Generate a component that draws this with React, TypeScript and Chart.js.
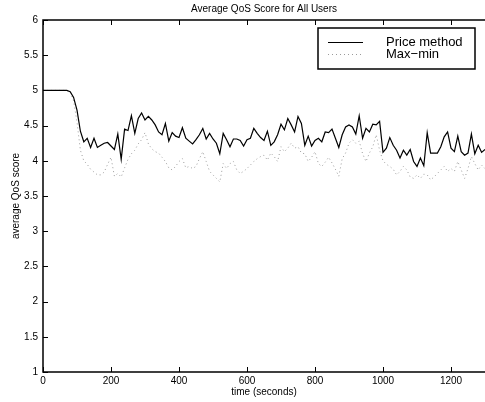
import React, { useEffect, useRef } from "react";
import { Chart, registerables } from "chart.js";

Chart.register(...registerables);

const chartTitle = "Average QoS Score for All Users";
const xTitle = "time (seconds)";
const yTitle = "average QoS score";
const seriesNames = ["Price method", "Max\u2212min"];

// sample times: 0, 10, ..., 1300 seconds
const times: number[] = Array.from({ length: 131 }, (_, i) => i * 10);

const priceMethod: number[] = [
  5.0, 5.0, 5.0, 5.0, 5.0, 5.0, 5.0, 5.0, 4.98, 4.9,
  4.72, 4.42, 4.27, 4.32, 4.19, 4.32, 4.19, 4.22, 4.25, 4.26,
  4.21, 4.16, 4.38, 4.02, 4.45, 4.43, 4.64, 4.39, 4.6, 4.68,
  4.58, 4.63, 4.58, 4.51, 4.41, 4.37, 4.53, 4.28, 4.4, 4.35,
  4.33, 4.47, 4.32, 4.28, 4.24, 4.3, 4.37, 4.46, 4.31, 4.39,
  4.31, 4.25, 4.1, 4.39, 4.3, 4.2, 4.31, 4.31, 4.29, 4.21,
  4.3, 4.32, 4.46, 4.39, 4.33, 4.29, 4.42, 4.22, 4.27, 4.37,
  4.52, 4.44, 4.6, 4.51, 4.41, 4.63, 4.53, 4.22, 4.35, 4.21,
  4.29, 4.32, 4.27, 4.41, 4.4, 4.45, 4.32, 4.19, 4.37, 4.48,
  4.51, 4.48, 4.38, 4.64, 4.32, 4.46, 4.41, 4.52, 4.51, 4.56,
  4.12, 4.18, 4.33, 4.22, 4.15, 4.04, 4.15, 4.08, 4.16, 3.99,
  3.92, 4.04, 3.93, 4.4, 4.11, 4.11, 4.11, 4.2, 4.34, 4.41,
  4.18, 4.13, 4.35, 4.13, 4.08, 4.11, 4.38, 4.1, 4.22, 4.12,
  4.16,
];

const maxMin: number[] = [
  5.0, 5.0, 5.0, 5.0, 5.0, 5.0, 5.0, 5.0, 4.98, 4.85,
  4.55, 4.15, 4.0, 3.95, 3.88, 3.84, 3.8, 3.8, 3.84, 3.95,
  4.05, 3.78, 3.82, 3.77, 3.9, 4.02, 4.1, 4.15, 4.24, 4.3,
  4.4, 4.24, 4.17, 4.13, 4.11, 4.05, 3.99, 3.9, 3.87, 3.92,
  3.99, 4.03, 3.9, 3.92, 3.89, 3.92, 4.03, 4.13, 3.99, 3.85,
  3.8, 3.75, 3.7, 3.96, 3.89, 3.96, 3.99, 3.87, 3.82, 3.85,
  3.89, 3.94, 3.99, 4.03, 4.06, 4.08, 4.01, 4.11, 4.06, 3.99,
  4.2, 4.13, 4.18, 4.25, 4.18, 4.2, 4.11, 4.1, 3.99, 4.05,
  4.13, 3.96, 3.92, 3.98, 4.05, 3.97, 3.88, 3.78, 4.03, 4.11,
  4.25, 4.3, 4.25, 4.28, 4.1, 3.99, 4.11, 4.2, 4.37, 4.15,
  4.0, 3.95, 3.92, 3.88, 3.8, 3.85, 3.92, 3.87, 3.77, 3.75,
  3.8, 3.75, 3.81, 3.8, 3.73, 3.77, 3.82, 3.87, 3.92, 3.85,
  3.89, 3.85, 3.99, 3.87, 3.75, 3.89, 4.06, 3.96, 3.87, 3.94,
  3.89,
];

const FONT = "'Liberation Sans', Arial, Helvetica, sans-serif";

const framePlugin = {
  id: "matlabFrame",
  afterDraw(chart: any) {
    const { ctx, chartArea: a, scales } = chart;
    const xs = scales.x;
    const ys = scales.y;
    ctx.save();
    // title
    ctx.fillStyle = "#000";
    ctx.font = `10px ${FONT}`;
    ctx.textAlign = "center";
    ctx.textBaseline = "middle";
    ctx.fillText(chartTitle, (a.left + a.right) / 2, 9.5);

    // frame (top, left, bottom)
    ctx.strokeStyle = "#000";
    ctx.lineWidth = 1.5;
    ctx.beginPath();
    ctx.moveTo(a.right + 3, a.top);
    ctx.lineTo(a.left, a.top);
    ctx.lineTo(a.left, a.bottom);
    ctx.lineTo(a.right + 3, a.bottom);
    ctx.stroke();

    // inward ticks
    ctx.lineWidth = 1;
    ctx.beginPath();
    xs.ticks.forEach((t: any) => {
      const px = Math.round(xs.getPixelForValue(t.value)) + 0.5;
      ctx.moveTo(px, a.bottom);
      ctx.lineTo(px, a.bottom - 5);
      ctx.moveTo(px, a.top);
      ctx.lineTo(px, a.top + 5);
    });
    ys.ticks.forEach((t: any) => {
      const py = Math.round(ys.getPixelForValue(t.value)) + 0.5;
      ctx.moveTo(a.left, py);
      ctx.lineTo(a.left + 5, py);
    });
    ctx.stroke();

    // legend box
    const bx = 318, by = 28, bw = 157, bh = 41;
    ctx.fillStyle = "#fff";
    ctx.fillRect(bx, by, bw, bh);
    ctx.lineWidth = 1.5;
    ctx.strokeStyle = "#000";
    ctx.strokeRect(bx, by, bw, bh);
    const ds = chart.data.datasets;
    const rows = [42.5, 54.5];
    ds.forEach((d: any, i: number) => {
      ctx.beginPath();
      ctx.strokeStyle = d.borderColor;
      ctx.lineWidth = d.borderWidth;
      ctx.setLineDash(d.borderDash || []);
      ctx.moveTo(328, rows[i]);
      ctx.lineTo(363, rows[i]);
      ctx.stroke();
      ctx.setLineDash([]);
      ctx.fillStyle = "#000";
      ctx.font = `13px ${FONT}`;
      ctx.textAlign = "left";
      ctx.textBaseline = "middle";
      ctx.fillText(d.label, 386, rows[i]);
    });
    ctx.restore();
  },
};

export default function App() {
  const ref = useRef<HTMLCanvasElement | null>(null);

  useEffect(() => {
    if (!ref.current) return;
    const chart = new Chart(ref.current, {
      type: "line",
      data: {
        datasets: [
          {
            label: seriesNames[0],
            data: times.map((t, i) => ({ x: t, y: priceMethod[i] })),
            borderColor: "#000000",
            borderWidth: 1.2,
            pointRadius: 0,
            tension: 0,
            fill: false,
          },
          {
            label: seriesNames[1],
            data: times.map((t, i) => ({ x: t, y: maxMin[i] })),
            borderColor: "#9a9a9a",
            borderWidth: 1,
            borderDash: [1, 3],
            pointRadius: 0,
            tension: 0,
            fill: false,
          },
        ],
      },
      options: {
        animation: false,
        responsive: false,
        devicePixelRatio: 1,
        layout: { padding: { top: 20, right: 0, left: 0, bottom: 0 } },
        plugins: {
          legend: { display: false },
          title: { display: false },
          tooltip: { enabled: false },
        },
        scales: {
          x: {
            type: "linear",
            min: 0,
            max: 1300,
            grid: { display: false, drawTicks: false },
            border: { display: false },
            ticks: {
              stepSize: 200,
              includeBounds: false,
              padding: 3,
              maxRotation: 0,
              color: "#000",
              font: { family: FONT, size: 10 },
              callback: (v: any) => String(v),
            },
            afterBuildTicks: (s: any) => {
              s.ticks = s.ticks.filter((t: any) => t.value % 200 === 0);
            },
            afterFit: (s: any) => {
              s.height = 30;
            },
            title: {
              display: true,
              text: xTitle,
              color: "#000",
              font: { family: FONT, size: 10 },
              padding: { top: 0, bottom: 4 },
            },
          },
          y: {
            type: "linear",
            min: 1,
            max: 6,
            grid: { display: false, drawTicks: false },
            border: { display: false },
            ticks: {
              stepSize: 0.5,
              padding: 5,
              color: "#000",
              font: { family: FONT, size: 10 },
              callback: (v: any) => String(v),
            },
            afterFit: (s: any) => {
              s.width = 43;
            },
            title: {
              display: true,
              text: yTitle,
              color: "#000",
              font: { family: FONT, size: 10 },
              padding: { top: 10, bottom: 0 },
            },
          },
        },
      },
      plugins: [framePlugin],
    });
    return () => chart.destroy();
  }, []);

  return (
    <div style={{ position: "fixed", left: 0, top: 0, width: 485, height: 402, background: "#fff", overflow: "hidden" }}>
      <canvas ref={ref} width={485} height={402} />
    </div>
  );
}
